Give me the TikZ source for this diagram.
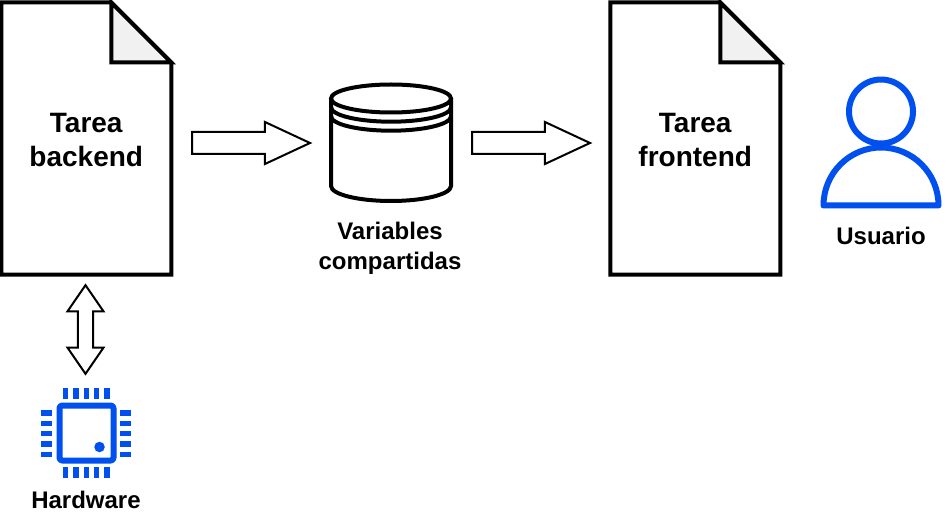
\documentclass[tikz,border=0pt]{standalone}
\usepackage{fontspec}
\setmainfont{Liberation Sans}
\usetikzlibrary{positioning,shapes.arrows}
\definecolor{chipblue}{RGB}{0,80,239}
\definecolor{foldgray}{RGB}{241,241,241}

\tikzset{
    doctext/.style={minimum width=127.5pt, minimum height=204pt, inner sep=0pt, outer sep=0pt, align=center,
        font=\fontsize{21}{25.5}\selectfont\bfseries},
    labeltext/.style={inner sep=0pt, align=center, font=\fontsize{18}{22.5}\selectfont\bfseries},
    rightarrow/.style={draw, single arrow, anchor=tail, line width=1.5pt, inner xsep=0pt, inner ysep=7.5pt, outer sep=0pt,
        minimum height=88.5pt, minimum width=30pt, single arrow head extend=7.5pt, single arrow tip angle=50},
    botharrow/.style={draw, double arrow, shape border rotate=90, line width=1.5pt, inner xsep=4.9pt, inner ysep=0pt,
        outer sep=0pt, minimum height=66.5pt, minimum width=25.5pt, double arrow head extend=7.9pt, double arrow tip angle=69},
    icon/.style={draw=chipblue, line width=4.5pt, line join=round},
    pin/.style={fill=chipblue},
    outline/.style={line width=3pt, line join=miter}
}
% sheet with a folded corner around a named node
\newcommand{\sheet}[1]{
    \draw[outline, fill=white] (#1.north west) -- ([xshift=-45pt]#1.north east) -- ([yshift=-45pt]#1.north east)
        -- (#1.south east) -- (#1.south west) -- cycle;
    \draw[outline, fill=foldgray] ([xshift=-45pt]#1.north east) -- ([xshift=-45pt,yshift=-45pt]#1.north east)
        -- ([yshift=-45pt]#1.north east) -- cycle;
}

\begin{document}
\begin{tikzpicture}[x=0.75pt, y=-0.75pt]
    \useasboundingbox (0,0) rectangle (950,524);

    % sheets
    \node[doctext] (backend) at (86.25,138.5) {};
    \node[doctext, right=329.25pt of backend] (frontend) {};
    \sheet{backend}
    \sheet{frontend}
    \node[doctext, yshift=-1.5pt] at (backend) {Tarea\\backend};
    \node[doctext, yshift=-1.5pt] at (frontend) {Tarea\\frontend};

    % block arrows
    \node[rightarrow] (toshared) at (192,143) {};
    \node[rightarrow] (tofront) at (472,143) {};
    \node[botharrow] (tohard) at (85.5,329.5) {};

    % shared variables
    \draw[outline] (331,98.5) arc[start angle=180, end angle=360, x radius=60, y radius=14]
        arc[start angle=0, end angle=180, x radius=60, y radius=14] -- cycle;
    \draw[outline] (331,98.5) -- (331,186) arc[start angle=180, end angle=0, x radius=60, y radius=15] -- (451,98.5);
    \draw[outline] (331,107.2) arc[start angle=180, end angle=0, x radius=60, y radius=14.5];
    \draw[outline] (331,116.2) arc[start angle=180, end angle=0, x radius=60, y radius=14.5];
    \node[labeltext] (shared) at (390,248.5) {Variables\\compartidas};

    % chip
    \draw[icon, rounded corners=2pt] (59.5,405.5) rectangle (113.5,460.5);
    \fill[chipblue] (99.5,447) circle[radius=5.25];
    \foreach \n in {65.7,76,86.3,96.7,107} {
        \fill[pin] (\n-2.65,388) rectangle (\n+2.65,399);
        \fill[pin] (\n-2.65,467) rectangle (\n+2.65,478);
    }
    \foreach \n in {413,423.3,433.7,444,454.3} {
        \fill[pin] (41,\n-2.65) rectangle (52,\n+2.65);
        \fill[pin] (120,\n-2.65) rectangle (131,\n+2.65);
    }
    \node[labeltext] (hardware) at (86,500) {Hardware};

    % user
    \draw[icon] (881,111.5) circle[radius=32];
    \draw[icon] (823.5,205.5) arc[start angle=180, end angle=360, x radius=57.5, y radius=58] -- cycle;
    \node[labeltext] (user) at (881,236) {Usuario};
\end{tikzpicture}
\end{document}
